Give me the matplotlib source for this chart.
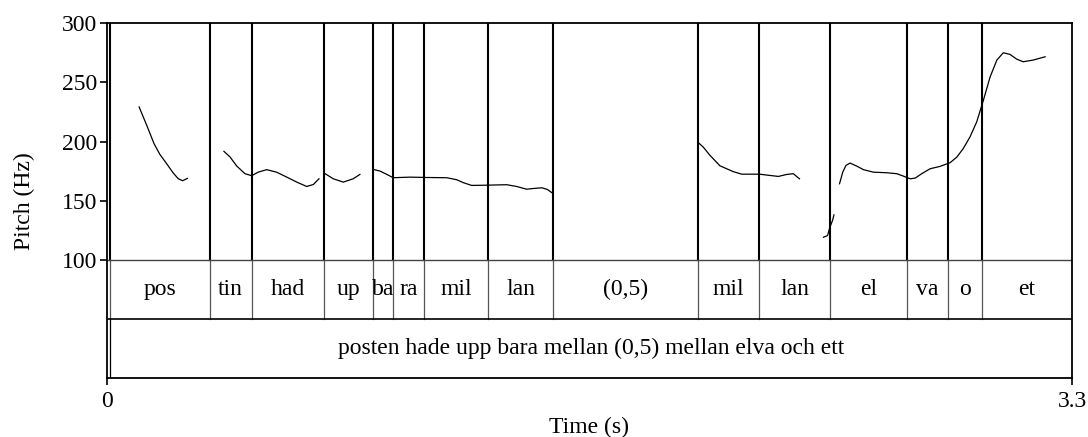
import matplotlib
matplotlib.use("Agg")
import matplotlib.pyplot as plt

# tier boundaries (s) and syllable labels
bounds = [0.010, 0.351, 0.495, 0.743, 0.911, 0.979, 1.084, 1.304, 1.524,
          2.020, 2.231, 2.472, 2.736, 2.876, 2.992, 3.300]
syllables = ["pos", "tin", "had", "up", "ba", "ra", "mil", "lan", "(0,5)",
             "mil", "lan", "el", "va", "o", "et"]
sentence = "posten hade upp bara mellan (0,5) mellan elva och ett"

# pitch contour pieces (time s, pitch Hz)
seg1_t = [0.110, 0.136, 0.161, 0.181, 0.204, 0.227, 0.244, 0.259, 0.275]
seg1_f = [229.3, 213.8, 198.3, 189.2, 181.4, 173.4, 168.6, 167.0, 168.9]

seg2_t = [0.400, 0.421, 0.444, 0.472, 0.495, 0.517, 0.546, 0.580, 0.615,
          0.649, 0.683, 0.706, 0.725]
seg2_f = [191.8, 187.0, 179.3, 172.9, 171.2, 174.2, 176.3, 174.2, 170.0,
          165.8, 162.1, 163.8, 168.6]

seg3_t = [0.746, 0.774, 0.808, 0.842, 0.865]
seg3_f = [172.9, 168.6, 165.8, 168.6, 172.3]

seg4_t = [0.911, 0.934, 0.957, 0.979, 1.036, 1.093, 1.162, 1.196, 1.219,
          1.247, 1.299, 1.367, 1.401, 1.435, 1.458, 1.487, 1.506, 1.524]
seg4_f = [176.5, 175.1, 172.3, 169.5, 170.0, 169.7, 169.5, 167.8, 165.3,
          163.0, 163.2, 163.6, 162.1, 159.8, 160.4, 161.0, 159.6, 156.4]

seg5_t = [2.022, 2.039, 2.062, 2.096, 2.119, 2.142, 2.171, 2.231, 2.268,
          2.296, 2.325, 2.347, 2.368]
seg5_f = [199.2, 195.4, 188.4, 179.6, 177.1, 174.6, 172.5, 172.5, 171.4,
          170.6, 172.3, 172.9, 168.6]

seg6_t = [2.450, 2.464, 2.472, 2.481, 2.486]
seg6_f = [119.2, 120.6, 127.6, 133.3, 138.1]

seg7_t = [2.505, 2.516, 2.527, 2.541, 2.564, 2.587, 2.621, 2.667, 2.701,
          2.724, 2.747, 2.764, 2.786, 2.815, 2.849, 2.883, 2.906, 2.928,
          2.951, 2.974, 2.997, 3.020, 3.043, 3.065, 3.088, 3.111, 3.133,
          3.167, 3.208]
seg7_f = [164.4, 174.2, 179.9, 181.9, 179.3, 176.3, 174.2, 173.7, 172.9,
          170.8, 168.6, 169.2, 172.9, 177.1, 179.1, 182.2, 186.9, 194.1,
          203.9, 216.6, 235.0, 254.7, 268.9, 275.1, 273.7, 269.7, 267.5,
          268.9, 271.7]

segments = [(seg1_t, seg1_f), (seg2_t, seg2_f), (seg3_t, seg3_f),
            (seg4_t, seg4_f), (seg5_t, seg5_f), (seg6_t, seg6_f),
            (seg7_t, seg7_f)]

plt.rcParams["font.family"] = ["Liberation Serif", "DejaVu Serif"]
plt.rcParams["font.size"] = 17

fig = plt.figure(figsize=(10.88, 4.37), dpi=100)
ax = fig.add_axes([0.0983, 0.1343, 0.8870, 0.8124])

# pitch curve
for t, f in segments:
    ax.plot(t, f, color="black", lw=0.9)

# boundaries through pitch area and tier 1
for b in bounds[:-1]:
    ax.plot([b, b], [100, 300], color="black", lw=1.5)
    ax.plot([b, b], [50, 100], color="#555555", lw=0.9)
# sentence tier left edge
ax.plot([bounds[0], bounds[0]], [0, 50], color="black", lw=0.9)

# tier separators
ax.axhline(100, color="#444444", lw=1.0)
ax.axhline(50, color="black", lw=1.2)

# syllable labels
for i, s in enumerate(syllables):
    ax.text((bounds[i] + bounds[i + 1]) / 2, 75, s, ha="center", va="center")
ax.text((bounds[0] + bounds[-1]) / 2, 25, sentence, ha="center", va="center")

ax.set_xlim(0, 3.3)
ax.set_ylim(0, 300)
ax.set_yticks([100, 150, 200, 250, 300])
ax.set_xticks([0, 3.3])
ax.set_xticklabels(["0", "3.3"])
ax.tick_params(direction="out", length=5, width=1.2, pad=2)
ax.tick_params(axis="x", pad=4)
for sp in ax.spines.values():
    sp.set_linewidth(1.3)

ax.set_ylabel("Pitch (Hz)", labelpad=19)
ax.set_xlabel("Time (s)", labelpad=4)

fig.savefig("out.png", dpi=100)
